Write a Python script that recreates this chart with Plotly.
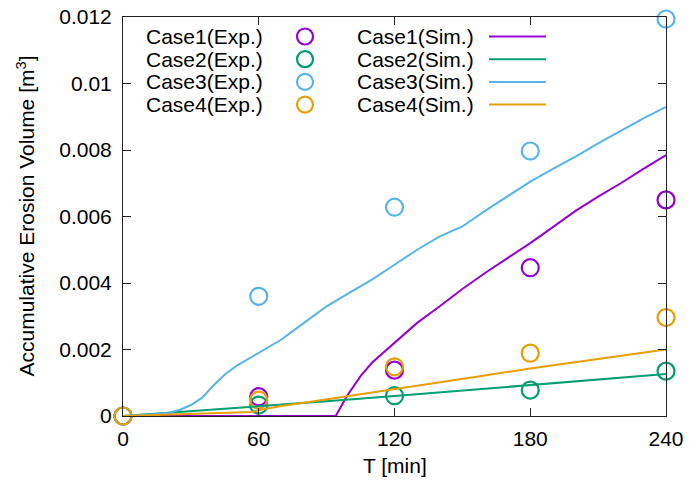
import plotly.graph_objects as go

# ---------------- data ----------------
t_exp = [0, 60, 120, 180, 240]
case1_exp = [0, 0.00058, 0.00138, 0.00446, 0.0065]
case2_exp = [0, 0.00033, 0.00061, 0.00078, 0.00135]
case3_exp = [0, 0.0036, 0.00628, 0.00797, 0.01194]
case4_exp = [0, 0.00048, 0.00148, 0.00189, 0.00296]

case1_sim_t = [0, 94, 99, 105, 110, 115, 120, 130, 140, 150, 160, 170, 180, 190, 200, 210, 220, 230, 240]
case1_sim_v = [0, 0, 0.0006, 0.0012, 0.0016, 0.0019, 0.0022, 0.0028, 0.0033, 0.00382, 0.0043, 0.00475,
               0.0052, 0.00568, 0.00617, 0.0066, 0.007, 0.00743, 0.00785]

case2_sim_t = [0, 30, 60, 90, 120, 150, 180, 210, 240]
case2_sim_v = [0, 0.00014, 0.00028, 0.00044, 0.0006, 0.00076, 0.00092, 0.00109, 0.00126]

case3_sim_t = [0, 10, 20, 25, 30, 35, 40, 45, 50, 60, 70, 80, 90, 100, 110, 120, 130, 140, 150,
               160, 170, 180, 190, 200, 210, 220, 230, 240]
case3_sim_v = [0, 0.00003, 0.0001, 0.00018, 0.00033, 0.00055, 0.00092, 0.00125, 0.0015, 0.0019,
               0.0023, 0.0028, 0.0033, 0.0037, 0.0041, 0.00455, 0.005, 0.0054, 0.0057, 0.00617,
               0.0066, 0.00705, 0.00743, 0.0078, 0.0082, 0.00858, 0.00895, 0.0093]

case4_sim_t = [0, 50, 57, 62, 70, 80, 90, 100, 120, 140, 160, 180, 200, 220, 240]
case4_sim_v = [0, 0.0001, 0.00012, 0.0002, 0.0003, 0.0004, 0.0005, 0.0006, 0.00082, 0.00102,
               0.00122, 0.00143, 0.00162, 0.00182, 0.002]

x_ticks = [0, 60, 120, 180, 240]
x_ticktext = ["0", "60", "120", "180", "240"]
y_ticks = [0, 0.002, 0.004, 0.006, 0.008, 0.01, 0.012]
y_ticktext = ["0", "0.002", "0.004", "0.006", "0.008", "0.01", "0.012"]

exp_names = ["Case1(Exp.)", "Case2(Exp.)", "Case3(Exp.)", "Case4(Exp.)"]
sim_names = ["Case1(Sim.)", "Case2(Sim.)", "Case3(Sim.)", "Case4(Sim.)"]
colors = ["#9400D3", "#009E73", "#56B4E9", "#E69F00"]

# ---------------- layout geometry (pixels) ----------------
W, H = 689, 483
L, R, T, B = 123, 666, 17, 416
FONT = "Liberation Sans"
FS = 21


def px_x(px):
    return (px - L) / (R - L)


def px_y(py):
    return (B - py) / (B - T)


fig = go.Figure()

exp_sets = [case1_exp, case2_exp, case3_exp, case4_exp]
sim_sets = [(case1_sim_t, case1_sim_v), (case2_sim_t, case2_sim_v),
            (case3_sim_t, case3_sim_v), (case4_sim_t, case4_sim_v)]

for name, vals, c in zip(exp_names, exp_sets, colors):
    fig.add_trace(go.Scatter(x=t_exp, y=vals, mode="markers", name=name, showlegend=False,
                             cliponaxis=False,
                             marker=dict(symbol="circle-open", size=17, color=c,
                                         line=dict(width=2.2, color=c))))

for name, (tt, vv), c in zip(sim_names, sim_sets, colors):
    fig.add_trace(go.Scatter(x=tt, y=vv, mode="lines", name=name, showlegend=False,
                             line=dict(color=c, width=2)))

# ---------------- custom gnuplot-style legend ----------------
rows = [36.5, 59.2, 81.9, 104.6]
annotations = []
shapes = []
for i in range(4):
    py = rows[i]
    annotations.append(dict(x=px_x(265), y=px_y(py), xref="paper", yref="paper", text=exp_names[i],
                            showarrow=False, xanchor="right", yanchor="middle",
                            font=dict(family=FONT, size=FS, color="black")))
    annotations.append(dict(x=px_x(476), y=px_y(py), xref="paper", yref="paper", text=sim_names[i],
                            showarrow=False, xanchor="right", yanchor="middle",
                            font=dict(family=FONT, size=FS, color="black")))
    shapes.append(dict(type="circle", xref="paper", yref="paper", xsizemode="pixel",
                       ysizemode="pixel", xanchor=px_x(305), yanchor=px_y(py),
                       x0=-8, x1=8, y0=-8, y1=8, line=dict(color=colors[i], width=2.2)))
    shapes.append(dict(type="line", xref="paper", yref="paper", x0=px_x(489), x1=px_x(546),
                       y0=px_y(py), y1=px_y(py), line=dict(color=colors[i], width=2)))

# axis titles
annotations.append(dict(x=px_x(25), y=0.5, xref="paper", yref="paper",
                        text="Accumulative Erosion Volume [m<sup>3</sup>]", textangle=-90,
                        showarrow=False, xanchor="center", yanchor="middle",
                        font=dict(family=FONT, size=FS, color="black")))
annotations.append(dict(x=0.5, y=px_y(466), xref="paper", yref="paper", text="T [min]",
                        showarrow=False, xanchor="center", yanchor="middle",
                        font=dict(family=FONT, size=FS, color="black")))

fig.update_layout(
    width=W, height=H,
    margin=dict(l=L, r=W - R, t=T, b=H - B, pad=0, autoexpand=False),
    paper_bgcolor="white", plot_bgcolor="white",
    font=dict(family=FONT, size=FS, color="black"),
    annotations=annotations, shapes=shapes,
    xaxis=dict(range=[0, 240], tickvals=x_ticks, ticktext=x_ticktext, ticks="inside",
               ticklen=8, tickwidth=1, tickcolor="#222222", showgrid=False, zeroline=False,
               showline=True, linecolor="#222222", linewidth=1, mirror="ticks",
               ticklabelstandoff=4, automargin=False),
    yaxis=dict(range=[0, 0.012], tickvals=y_ticks, ticktext=y_ticktext, ticks="inside",
               ticklen=8, tickwidth=1, tickcolor="#222222", showgrid=False, zeroline=False,
               showline=True, linecolor="#222222", linewidth=1, mirror="ticks",
               ticklabelstandoff=6, automargin=False),
)

fig.write_html("out.html")
